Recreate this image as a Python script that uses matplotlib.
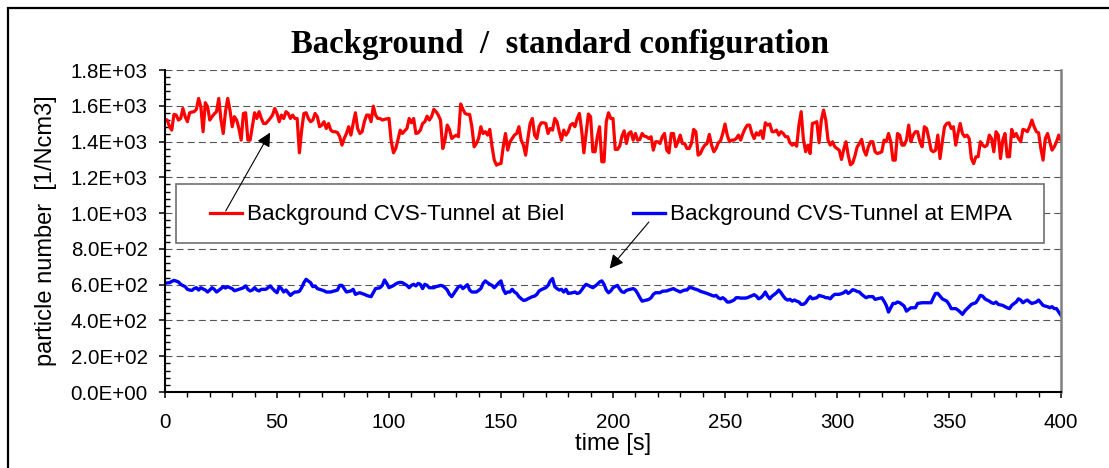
import numpy as np
import matplotlib
matplotlib.use("Agg")
import matplotlib.pyplot as plt
from matplotlib.patches import Rectangle
from matplotlib.ticker import MultipleLocator, FuncFormatter

# ---------------- data ----------------
time_s = list(range(0, 401))

biel = [
    1524, 1520, 1483, 1464, 1552, 1548, 1520, 1529, 1585, 1539,
    1511, 1561, 1565, 1567, 1580, 1641, 1595, 1455, 1617, 1595,
    1520, 1539, 1555, 1567, 1641, 1520, 1445, 1567, 1641, 1576,
    1483, 1539, 1520, 1473, 1408, 1557, 1561, 1408, 1408, 1483,
    1561, 1529, 1567, 1529, 1501, 1501, 1515, 1530, 1548, 1585,
    1557, 1511, 1548, 1529, 1567, 1557, 1529, 1548, 1529, 1529,
    1337, 1464, 1557, 1561, 1529, 1511, 1520, 1557, 1539, 1483,
    1492, 1511, 1473, 1501, 1464, 1455, 1455, 1450, 1427, 1380,
    1417, 1445, 1483, 1436, 1501, 1561, 1473, 1445, 1455, 1511,
    1548, 1548, 1511, 1598, 1548, 1529, 1529, 1520, 1524, 1527,
    1529, 1400, 1337, 1361, 1410, 1464, 1445, 1460, 1473, 1529,
    1505, 1529, 1445, 1449, 1464, 1501, 1511, 1542, 1520, 1539,
    1580, 1567, 1548, 1520, 1361, 1408, 1492, 1468, 1417, 1427,
    1436, 1427, 1610, 1580, 1557, 1552, 1552, 1483, 1371, 1389,
    1417, 1483, 1445, 1455, 1436, 1468, 1371, 1296, 1268, 1275,
    1277, 1371, 1445, 1352, 1399, 1417, 1436, 1445, 1483, 1408,
    1380, 1324, 1417, 1501, 1529, 1436, 1417, 1483, 1505, 1505,
    1501, 1445, 1473, 1464, 1529, 1511, 1455, 1408, 1464, 1436,
    1455, 1492, 1501, 1483, 1529, 1557, 1464, 1337, 1445, 1554,
    1539, 1343, 1343, 1427, 1483, 1287, 1287, 1511, 1561, 1529,
    1529, 1356, 1356, 1375, 1430, 1460, 1389, 1445, 1455, 1408,
    1445, 1408, 1412, 1445, 1430, 1427, 1417, 1427, 1352, 1399,
    1399, 1389, 1427, 1445, 1352, 1337, 1445, 1445, 1371, 1399,
    1436, 1389, 1389, 1361, 1361, 1389, 1468, 1455, 1324, 1333,
    1361, 1380, 1389, 1440, 1380, 1343, 1361, 1393, 1404, 1445,
    1498, 1436, 1399, 1408, 1408, 1417, 1436, 1408, 1445, 1473,
    1492, 1492, 1445, 1417, 1449, 1436, 1460, 1417, 1505, 1492,
    1498, 1455, 1455, 1464, 1436, 1455, 1445, 1427, 1427, 1393,
    1380, 1389, 1374, 1492, 1567, 1412, 1343, 1380, 1333, 1501,
    1505, 1511, 1393, 1520, 1576, 1520, 1408, 1380, 1399, 1371,
    1361, 1352, 1300, 1356, 1399, 1324, 1270, 1280, 1320, 1370,
    1389, 1412, 1352, 1324, 1371, 1399, 1399, 1343, 1333, 1337,
    1343, 1408, 1399, 1445, 1399, 1296, 1296, 1445, 1436, 1380,
    1380, 1408, 1492, 1399, 1436, 1455, 1455, 1399, 1371, 1483,
    1473, 1417, 1352, 1343, 1352, 1436, 1305, 1399, 1483, 1501,
    1505, 1473, 1483, 1380, 1445, 1501, 1445, 1427, 1436, 1417,
    1305, 1277, 1315, 1315, 1399, 1380, 1371, 1380, 1436, 1417,
    1343, 1455, 1436, 1305, 1408, 1445, 1315, 1315, 1468, 1427,
    1445, 1417, 1399, 1468, 1464, 1455, 1483, 1520, 1483, 1455,
    1449, 1361, 1296, 1417, 1445, 1399, 1352, 1371, 1399, 1436,
    1408,
]

empa = [
    608, 610, 611, 618, 624, 620, 615, 602, 595, 589,
    574, 570, 568, 578, 583, 570, 583, 576, 570, 559,
    570, 583, 574, 559, 568, 578, 589, 581, 589, 583,
    578, 566, 570, 574, 578, 583, 593, 574, 565, 570,
    583, 570, 565, 574, 574, 574, 583, 593, 578, 565,
    555, 589, 578, 559, 570, 555, 540, 551, 559, 559,
    563, 583, 611, 630, 620, 611, 589, 593, 578, 574,
    570, 566, 559, 559, 559, 563, 566, 570, 596, 596,
    578, 559, 562, 565, 574, 546, 551, 555, 550, 546,
    540, 536, 533, 555, 578, 580, 583, 596, 626, 607,
    583, 589, 595, 604, 610, 613, 611, 603, 596, 583,
    596, 602, 593, 607, 602, 578, 602, 596, 583, 583,
    583, 589, 592, 596, 593, 583, 570, 546, 533, 551,
    570, 589, 593, 578, 589, 600, 570, 559, 559, 559,
    568, 578, 607, 621, 611, 602, 596, 583, 596, 610,
    621, 574, 551, 559, 559, 574, 559, 551, 533, 522,
    512, 514, 521, 527, 533, 536, 546, 565, 572, 578,
    583, 596, 621, 634, 589, 578, 570, 574, 559, 574,
    551, 553, 555, 559, 551, 555, 570, 589, 602, 596,
    589, 583, 592, 602, 615, 621, 602, 570, 555, 565,
    583, 590, 596, 575, 560, 557, 568, 572, 575, 578,
    570, 551, 527, 508, 511, 514, 518, 527, 546, 555,
    555, 555, 563, 564, 565, 570, 574, 578, 570, 565,
    559, 565, 570, 570, 583, 583, 578, 574, 570, 563,
    559, 555, 551, 546, 541, 536, 540, 527, 521, 527,
    518, 503, 503, 508, 514, 527, 527, 525, 525, 525,
    527, 533, 538, 544, 536, 521, 527, 540, 559, 536,
    521, 536, 545, 555, 570, 555, 536, 521, 514, 518,
    508, 514, 508, 503, 490, 490, 499, 518, 533, 521,
    524, 527, 540, 536, 533, 527, 527, 521, 536, 546,
    546, 546, 550, 555, 565, 551, 560, 572, 568, 562,
    559, 546, 536, 527, 533, 533, 533, 518, 521, 524,
    527, 508, 484, 447, 471, 495, 495, 503, 499, 490,
    480, 452, 462, 471, 471, 471, 495, 497, 499, 499,
    499, 499, 499, 527, 551, 551, 536, 521, 514, 508,
    490, 466, 466, 466, 458, 447, 434, 452, 465, 477,
    490, 495, 499, 518, 540, 536, 521, 514, 508, 499,
    495, 503, 490, 487, 484, 477, 471, 466, 484, 494,
    503, 521, 514, 499, 508, 514, 503, 495, 499, 503,
    514, 499, 484, 480, 477, 471, 477, 466, 466, 447,
    428,
]

series_labels = ["Background CVS-Tunnel at Biel", "Background CVS-Tunnel at EMPA"]
title_text = "Background  /  standard configuration"
x_label = "time [s]"
y_label = "particle number  [1/Ncm3]"

# ---------------- figure ----------------
W, H = 1109, 468
fig = plt.figure(figsize=(W / 100, H / 100), dpi=100)
plt.rcParams["font.family"] = ["Liberation Sans", "DejaVu Sans"]

# outer chart border (extends past right/bottom edge)
fig.patches.append(Rectangle((8 / W, -0.1), 1.2, 1 - 8 / H + 0.1,
                             transform=fig.transFigure, fill=False,
                             edgecolor="black", linewidth=1.6))

ax = fig.add_axes([165 / W, 1 - 392 / H, (1061 - 165) / W, (392 - 70) / H])

l1, = ax.plot(time_s, biel, color="#FF0000", linewidth=2.3, solid_joinstyle="round")
l2, = ax.plot(time_s, empa, color="#0000FF", linewidth=2.4, solid_joinstyle="round")

ax.set_xlim(0, 400)
ax.set_ylim(0, 1800)

ax.xaxis.set_major_locator(MultipleLocator(50))
ax.xaxis.set_minor_locator(MultipleLocator(10))
ax.yaxis.set_major_locator(MultipleLocator(200))
ax.yaxis.set_minor_locator(MultipleLocator(40))
ax.yaxis.set_major_formatter(FuncFormatter(lambda v, p: f"{v:.1E}"))

ax.grid(axis="y", which="major", color="#555555", linewidth=0.8,
        linestyle=(0, (6.25, 3.75)))
ax.set_axisbelow(True)

ax.spines["top"].set_visible(False)
ax.spines["left"].set_linewidth(1.5)
ax.spines["bottom"].set_linewidth(1.5)
ax.spines["right"].set_color("#808080")
ax.spines["right"].set_linewidth(1.8)

ax.tick_params(axis="y", which="major", direction="out", length=4.5, width=1.1,
               labelsize=14.8, pad=8.0)
ax.tick_params(axis="y", which="minor", direction="in", length=3.6, width=1.0)
ax.tick_params(axis="x", which="major", direction="out", length=4.5, width=1.1,
               labelsize=14.8, pad=10.5)
ax.tick_params(axis="x", which="minor", direction="out", length=3.6, width=1.0)

ax.set_xlabel(x_label, fontsize=17)
ax.set_ylabel(y_label, fontsize=17)
ax.xaxis.set_label_coords(0.5, (392 - 433) / 322)
ax.yaxis.set_label_coords((57 - 165) / 896, 0.5)

# legend box (opaque, covers gridlines)
ax.add_patch(Rectangle(((176 - 165) / 896, (392 - 243) / 322),
                       (1044 - 176) / 896, (243 - 184) / 322,
                       transform=ax.transAxes, facecolor="white",
                       edgecolor="#707070", linewidth=1.2, zorder=2.6))

fs_leg = 16.2
em = fs_leg * 100 / 72
leg = fig.legend([l1, l2], series_labels, loc="center left",
                 bbox_to_anchor=(210 / W, 1 - 215 / H),
                 bbox_transform=fig.transFigure, ncol=2, frameon=False,
                 fontsize=fs_leg, borderpad=0, borderaxespad=0,
                 handlelength=32 / em, handletextpad=5 / em,
                 columnspacing=69 / em)

# arrows from legend entries to curves
arrow_kw = dict(arrowstyle="-|>,head_length=0.55,head_width=0.28",
                color="black", linewidth=0.8, mutation_scale=15,
                shrinkA=0, shrinkB=0)
ax.annotate("", xy=(46.9, 1450), xytext=(27.1, 1012),
            arrowprops=arrow_kw, zorder=4)
ax.annotate("", xy=(198.5, 690), xytext=(216.0, 950),
            arrowprops=arrow_kw, zorder=4)

fig.text(560 / W, 1 - 53 / H, title_text, ha="center", va="baseline",
         fontsize=23.6, fontweight="bold", family=["Liberation Serif", "DejaVu Serif"])

fig.savefig("out.png", dpi=100)
